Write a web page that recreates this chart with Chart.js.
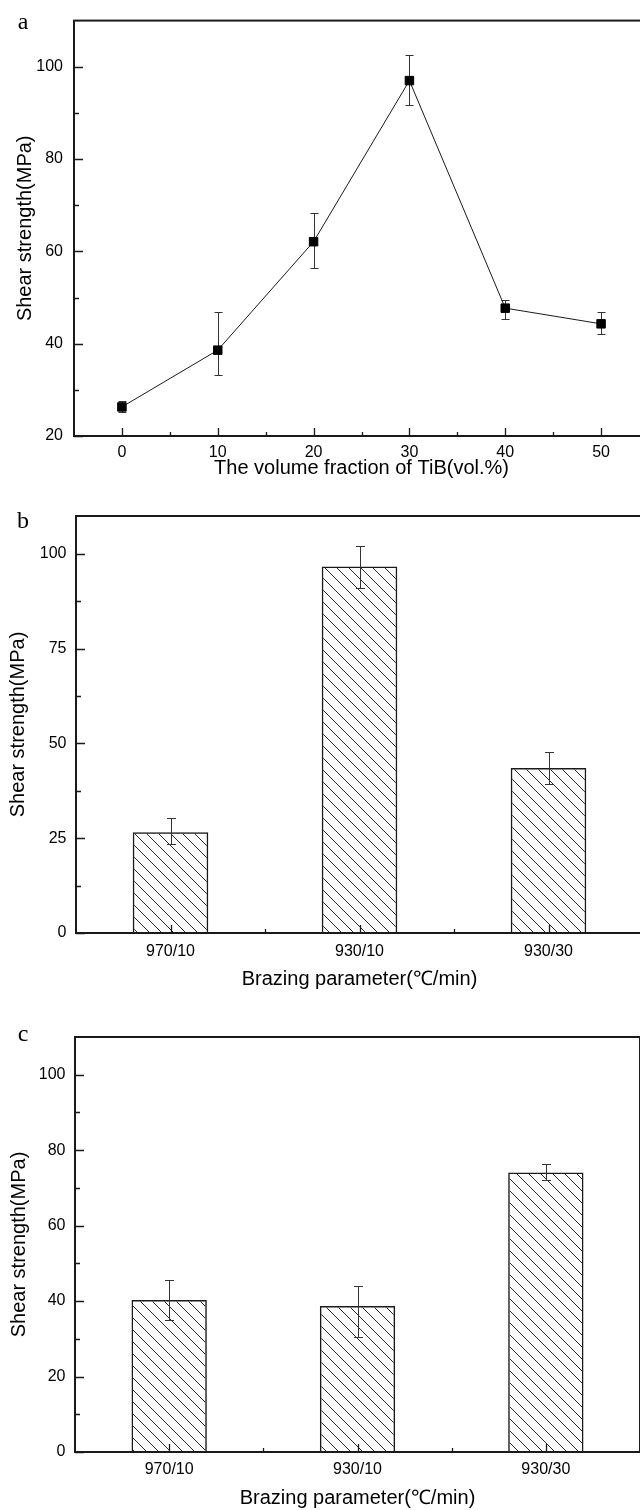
<!DOCTYPE html>
<html>
<head>
<meta charset="utf-8">
<script src="https://cdn.jsdelivr.net/npm/chart.js@4.4.1/dist/chart.umd.min.js"></script>
<style>
    html, body { margin: 0; padding: 0; background: #fff; width: 640px; height: 1510px; overflow: hidden; position: relative; }
    canvas { position: absolute; left: 0; }
</style>
</head>
<body>
<canvas id="chart-a" width="700" height="490" style="top:0px"></canvas>
<canvas id="chart-b" width="700" height="500" style="top:495px"></canvas>
<canvas id="chart-c" width="700" height="505" style="top:1005px"></canvas>
<script>
// ---- data ----
const tibFraction = [0, 10, 20, 30, 40, 50];
const strengthA = [26.3, 38.6, 62.1, 97.0, 47.7, 44.3];
const errUpA = [1.2, 8.3, 6.3, 5.6, 1.8, 2.5];
const errDownA = [1.2, 5.4, 5.7, 5.3, 2.3, 2.1];
const xTicksA = [0, 10, 20, 30, 40, 50];
const xMinorA = [5, 15, 25, 35, 45];
const yTicksA = [20, 40, 60, 80, 100];
const yMinorA = [30, 50, 70, 90];

const brazingParams = ['970/10', '930/10', '930/30'];
const strengthB = [26.6, 96.7, 43.5];
const errUpB = [3.7, 5.3, 4.3];
const errDownB = [3.1, 5.8, 4.2];
const yTicksB = [0, 25, 50, 75, 100];
const yMinorB = [12.5, 37.5, 62.5, 87.5];

const strengthC = [40.3, 38.7, 74.1];
const errUpC = [5.4, 5.3, 2.3];
const errDownC = [5.2, 8.2, 2.1];
const yTicksC = [0, 20, 40, 60, 80, 100];
const yMinorC = [10, 30, 50, 70, 90];
const catMinor = [0.5, 1.5];

//====================================
Chart.defaults.font.family = "'Liberation Sans', Arial, sans-serif";
Chart.defaults.color = '#000';
const INK = '#1a1a1a';
const tickFont = {size: 16, lineHeight: 1.2};
const titleFont = {size: 20, lineHeight: 1.2};

function hatch() {
    const s = 12;
    const c = document.createElement('canvas');
    c.width = s;
    c.height = s;
    const g = c.getContext('2d');
    g.strokeStyle = '#2a2a2a';
    g.lineWidth = 1;
    g.beginPath();
    g.moveTo(0, 0); g.lineTo(s, s);
    g.moveTo(-2, s - 2); g.lineTo(2, s + 2);
    g.moveTo(s - 2, -2); g.lineTo(s + 2, 2);
    g.stroke();
    return g.createPattern(c, 'repeat');
}

// box + inward ticks + panel letter
const framePlugin = {
    id: 'frame',
    afterDatasetsDraw(chart, args, opts) {
        const {ctx, chartArea: a, scales: {x, y}} = chart;
        ctx.save();
        ctx.strokeStyle = INK;
        ctx.lineWidth = 1.3;
        ctx.beginPath();
        y.ticks.forEach(t => {
            const p = Math.round(y.getPixelForValue(t.value)) + 0.5;
            ctx.moveTo(a.left, p); ctx.lineTo(a.left + 9, p);
        });
        opts.yMinor.forEach(v => {
            const p = Math.round(y.getPixelForValue(v)) + 0.5;
            ctx.moveTo(a.left, p); ctx.lineTo(a.left + 5, p);
        });
        x.ticks.forEach(t => {
            const p = Math.round(x.getPixelForValue(t.value)) + 0.5;
            ctx.moveTo(p, a.bottom); ctx.lineTo(p, a.bottom - 8);
        });
        opts.xMinor.forEach(v => {
            const p = Math.round(x.getPixelForValue(v)) + 0.5;
            ctx.moveTo(p, a.bottom); ctx.lineTo(p, a.bottom - 4);
        });
        ctx.stroke();

        ctx.lineWidth = 2;
        ctx.strokeRect(a.left, a.top, a.right - a.left, a.bottom - a.top);

        ctx.fillStyle = '#000';
        ctx.font = "24px 'Liberation Serif', 'Times New Roman', serif";
        ctx.textAlign = 'center';
        ctx.textBaseline = 'alphabetic';
        ctx.fillText(opts.letter, 23, opts.letterY);
        ctx.restore();
    }
};

// error bars, under the markers for the line panel, over the bars otherwise
function drawErrors(chart, opts) {
    const {ctx, scales: {y}} = chart;
    const meta = chart.getDatasetMeta(0);
    ctx.save();
    ctx.strokeStyle = '#333';
    ctx.lineWidth = 1;
    ctx.beginPath();
    meta.data.forEach((el, i) => {
        const v = chart.data.datasets[0].data[i];
        const val = typeof v === 'object' ? v.y : v;
        const cx = Math.round(el.x) + 0.5;
        const top = Math.round(y.getPixelForValue(val + opts.up[i])) + 0.5;
        const bot = Math.round(y.getPixelForValue(val - opts.down[i])) + 0.5;
        ctx.moveTo(cx, top); ctx.lineTo(cx, bot);
        ctx.moveTo(cx - opts.cap, top); ctx.lineTo(cx + opts.cap, top);
        ctx.moveTo(cx - opts.cap, bot); ctx.lineTo(cx + opts.cap, bot);
    });
    ctx.stroke();
    ctx.restore();
}

const errorPlugin = {
    id: 'errbars',
    beforeDatasetsDraw(chart, args, opts) {
        if (opts.under) drawErrors(chart, opts);
    },
    afterDatasetsDraw(chart, args, opts) {
        if (!opts.under) drawErrors(chart, opts);
    }
};

function yAxis(min, max, ticks, width, tickPad, titlePad) {
    return {
        min: min,
        max: max,
        afterBuildTicks: s => { s.ticks = ticks.map(v => ({value: v})); },
        afterFit: s => { s.width = width; },
        grid: {display: false, drawTicks: false},
        border: {display: false},
        ticks: {padding: tickPad, font: tickFont, color: '#000'},
        title: {display: true, text: 'Shear strength(MPa)', font: titleFont, color: '#000', padding: {top: titlePad, bottom: 0}}
    };
}

const baseOptions = {
    responsive: false,
    animation: false,
    events: []
};

//-------------------------------
new Chart(document.getElementById('chart-a'), {
    type: 'line',
    data: {
        datasets: [{
            data: tibFraction.map((v, i) => ({x: v, y: strengthA[i]})),
            borderColor: INK,
            borderWidth: 1,
            pointStyle: 'rect',
            pointRadius: 6,
            pointBorderWidth: 1,
            pointBackgroundColor: '#000',
            pointBorderColor: '#000',
            tension: 0
        }]
    },
    options: {
        ...baseOptions,
        layout: {padding: {top: 14, right: 51, left: 0, bottom: 0}},
        scales: {
            x: {
                type: 'linear',
                min: -5,
                max: 55,
                afterBuildTicks: s => { s.ticks = xTicksA.map(v => ({value: v})); },
                afterFit: s => { s.height = 54; },
                grid: {display: false, drawTicks: false},
                border: {display: false},
                ticks: {padding: 7, font: tickFont, color: '#000'},
                title: {display: true, text: 'The volume fraction of TiB(vol.%)', font: titleFont, color: '#000', padding: {top: 0, bottom: 10}}
            },
            y: yAxis(20, 110, yTicksA, 74, 11, 13.5)
        },
        plugins: {
            legend: {display: false},
            tooltip: {enabled: false},
            errbars: {up: errUpA, down: errDownA, cap: 4, under: true},
            frame: {letter: 'a', letterY: 29, yMinor: yMinorA, xMinor: xMinorA}
        }
    },
    plugins: [errorPlugin, framePlugin]
});

//-------------------------------
function barChart(id, values, up, down, yTicks, yMinor, geo) {
    return new Chart(document.getElementById(id), {
        type: 'bar',
        data: {
            labels: brazingParams,
            datasets: [{
                data: values,
                backgroundColor: hatch(),
                borderColor: INK,
                borderWidth: 1.5,
                categoryPercentage: 1,
                barPercentage: 0.4
            }]
        },
        options: {
            ...baseOptions,
            layout: {padding: {top: geo.top, right: geo.right, left: 0, bottom: 0}},
            scales: {
                x: {
                    afterFit: s => { s.height = geo.xh; },
                    grid: {display: false, drawTicks: false},
                    border: {display: false},
                    ticks: {padding: geo.xPad, font: tickFont, color: '#000'},
                    title: {display: true, text: 'Brazing parameter(℃/min)', font: titleFont, color: '#000', padding: {top: 0, bottom: geo.titlePad}}
                },
                y: yAxis(0, 110, yTicks, geo.left, geo.yPad, geo.yTitlePad)
            },
            plugins: {
                legend: {display: false},
                tooltip: {enabled: false},
                errbars: {up: up, down: down, cap: 4.5, under: false},
                frame: {letter: geo.letter, letterY: geo.letterY, yMinor: yMinor, xMinor: catMinor}
            }
        },
        plugins: [framePlugin, errorPlugin]
    });
}

barChart('chart-b', strengthB, errUpB, errDownB, yTicksB, yMinorB,
    {top: 21, right: 57, left: 76, xh: 62, xPad: 9, titlePad: 4, yPad: 9.5, yTitlePad: 6.5, letter: 'b', letterY: 33});

barChart('chart-c', strengthC, errUpC, errDownC, yTicksC, yMinorC,
    {top: 32, right: 60, left: 75, xh: 58, xPad: 7.5, titlePad: 0, yPad: 9.5, yTitlePad: 7, letter: 'c', letterY: 36});
</script>
</body>
</html>
